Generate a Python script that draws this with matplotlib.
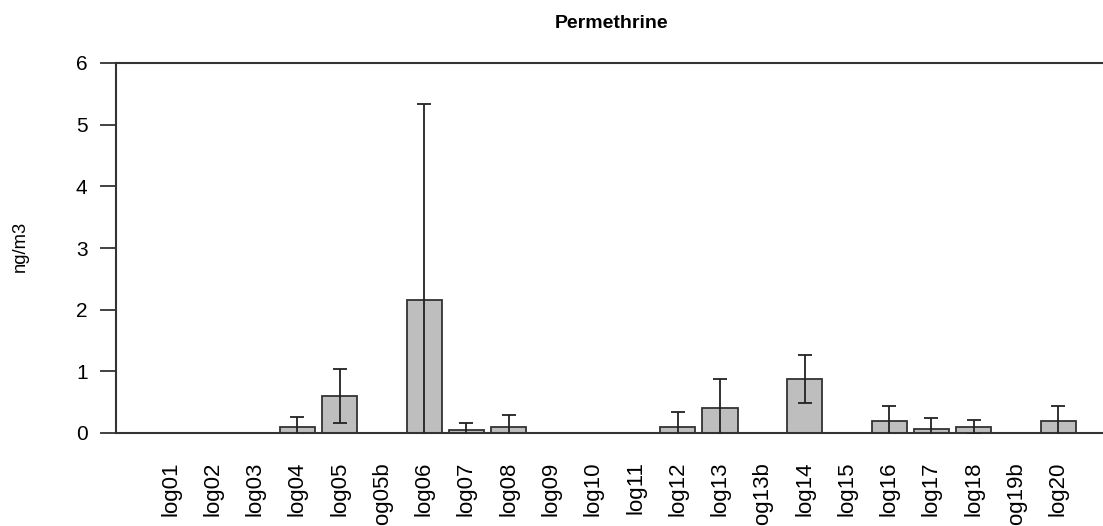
import matplotlib
matplotlib.use("Agg")
import matplotlib.pyplot as plt
import numpy as np

plt.rcParams["font.family"] = ["Liberation Sans", "DejaVu Sans"]

sites = ["log01", "log02", "log03", "log04", "log05", "log05b", "log06", "log07",
         "log08", "log09", "log10", "log11", "log12", "log13", "log13b", "log14",
         "log15", "log16", "log17", "log18", "log19b", "log20"]
means = [0, 0, 0, 0.10, 0.60, 0, 2.157, 0.05,
         0.10, 0, 0, 0, 0.10, 0.40, 0, 0.87,
         0, 0.195, 0.07, 0.10, 0, 0.195]
sds = [0, 0, 0, 0.165, 0.435, 0, 3.18, 0.117,
       0.19, 0, 0, 0, 0.235, 0.475, 0, 0.39,
       0, 0.235, 0.17, 0.11, 0, 0.235]

W, H = 1103, 526
fig = plt.figure(figsize=(W / 100, H / 100), dpi=100)
# plot region runs a bit past the right edge of the picture, like the original
ax = fig.add_axes([116 / W, (H - 433) / H, (1112.8 - 116) / W, (433 - 63) / H])

# R barplot positions: width 1, space 0.2
x = 0.7 + 1.2 * np.arange(len(sites))
ax.bar(x, means, width=1.0, color="#bebebe", edgecolor="#333333", linewidth=1.3, zorder=2)
has_err = [i for i, s in enumerate(sds) if s > 0]
ax.errorbar(x[has_err], [means[i] for i in has_err], yerr=[sds[i] for i in has_err],
            fmt="none", ecolor="#222222", elinewidth=1.3, capsize=4.7, capthick=1.3, zorder=3)

ax.set_xlim(-0.848, 27.448)
ax.set_ylim(0, 6)
ax.set_yticks(range(0, 7))
ax.tick_params(axis="y", length=11.5, width=1.3, color="#333333", pad=9, labelsize=15)
ax.set_xticks(x)
ax.set_xticklabels(sites, rotation=90, fontsize=16, va="top", ha="center")
ax.tick_params(axis="x", length=0, pad=20.5)
ax.spines["right"].set_visible(False)
for s in ["left", "top", "bottom"]:
    ax.spines[s].set_linewidth(1.5)
    ax.spines[s].set_color("#333333")

fig.text(612 / W, 1 - 23 / H, "Permethrine", ha="center", va="center",
         fontsize=14, fontweight="bold")
fig.text(20 / W, 1 - 246 / H, "ng/m3", ha="center", va="center", rotation=90, fontsize=13.2)

fig.savefig("out.png", dpi=100)
